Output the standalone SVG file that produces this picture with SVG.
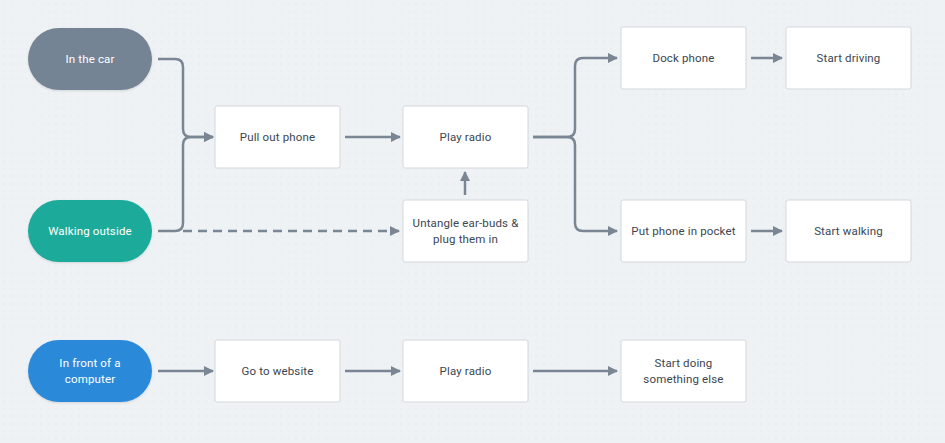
<svg xmlns="http://www.w3.org/2000/svg" width="945" height="443" viewBox="0 0 945 443">
<defs>
<pattern id="dots" width="7.5" height="7.5" patternUnits="userSpaceOnUse">
<circle cx="3.75" cy="3.75" r="0.55" fill="#d6dde3"/>
</pattern>
<marker id="arr" viewBox="0 0 10 10" refX="9" refY="5" markerWidth="4" markerHeight="4" orient="auto" markerUnits="strokeWidth">
<path d="M0,0 L10,5 L0,10 Z" fill="#7a8694"/>
</marker>
<filter id="sh" x="-10%" y="-10%" width="120%" height="130%">
<feDropShadow dx="0" dy="1" stdDeviation="1" flood-color="#000" flood-opacity="0.12"/>
</filter>
</defs>
<style>
.pill text, .box text { font-family: "Roboto", "Liberation Sans", sans-serif; font-size: 11.5px; letter-spacing: 0.15px; text-anchor: middle; dominant-baseline: central; }
.pill text { fill: #ffffff; }
.box rect { fill: #ffffff; stroke: #d3d8de; stroke-width: 1; }
.box text { fill: #3b4650; }
.conn path { fill: none; stroke: #7a8694; stroke-width: 2.5; stroke-linecap: butt; marker-end: url(#arr); }
.conn .dash { stroke-dasharray: 9 6; }
</style>
<rect width="945" height="443" fill="#eef2f5"/>
<rect width="945" height="443" fill="url(#dots)"/>

<g class="conn" id="connectors">
<path d="M158,59 H175 Q183,59 183,67 V129 Q183,137 191,137 H213"/>
<path d="M158,231 H175 Q183,231 183,223 V145 Q183,137 191,137 H213"/>
<path class="dash" d="M183,231 H399"/>
<path d="M345,137 H400"/>
<path d="M465,195 V172"/>
<path d="M533,137 H567 Q575,137 575,129 V66 Q575,58 583,58 H617"/>
<path d="M533,137 H567 Q575,137 575,145 V223 Q575,231 583,231 H617"/>
<path d="M751,58 H782"/>
<path d="M751,231 H782"/>
<path d="M158,371 H213"/>
<path d="M345,371 H400"/>
<path d="M533,371 H617"/>
</g>

<g class="pill" id="n-car">
<rect x="28" y="28" width="124" height="62" rx="31" fill="#758494" filter="url(#sh)"/>
<text x="90" y="59">In the car</text>
</g>
<g class="pill" id="n-walking">
<rect x="28" y="200" width="124" height="62" rx="31" fill="#1aab9a" filter="url(#sh)"/>
<text x="90" y="231">Walking outside</text>
</g>
<g class="pill" id="n-computer">
<rect x="28" y="340" width="124" height="62" rx="31" fill="#2b8ad9" filter="url(#sh)"/>
<text x="90" y="363">In front of a</text>
<text x="90" y="379">computer</text>
</g>

<g class="box" id="n-pull">
<rect x="215" y="106" width="125" height="62" rx="2"/>
<text x="277.5" y="137">Pull out phone</text>
</g>
<g class="box" id="n-play1">
<rect x="403" y="106" width="125" height="62" rx="2"/>
<text x="465.5" y="137">Play radio</text>
</g>
<g class="box" id="n-untangle">
<rect x="403" y="200" width="125" height="62" rx="2"/>
<text x="465.5" y="223">Untangle ear-buds &amp;</text>
<text x="465.5" y="239">plug them in</text>
</g>
<g class="box" id="n-dock">
<rect x="621" y="27" width="125" height="62" rx="2"/>
<text x="683.5" y="58">Dock phone</text>
</g>
<g class="box" id="n-driving">
<rect x="786" y="27" width="125" height="62" rx="2"/>
<text x="848.5" y="58">Start driving</text>
</g>
<g class="box" id="n-pocket">
<rect x="621" y="200" width="125" height="62" rx="2"/>
<text x="683.5" y="231">Put phone in pocket</text>
</g>
<g class="box" id="n-walk">
<rect x="786" y="200" width="125" height="62" rx="2"/>
<text x="848.5" y="231">Start walking</text>
</g>
<g class="box" id="n-website">
<rect x="215" y="340" width="125" height="62" rx="2"/>
<text x="277.5" y="371">Go to website</text>
</g>
<g class="box" id="n-play2">
<rect x="403" y="340" width="125" height="62" rx="2"/>
<text x="465.5" y="371">Play radio</text>
</g>
<g class="box" id="n-else">
<rect x="621" y="340" width="125" height="62" rx="2"/>
<text x="683.5" y="363">Start doing</text>
<text x="683.5" y="379">something else</text>
</g>
</svg>
